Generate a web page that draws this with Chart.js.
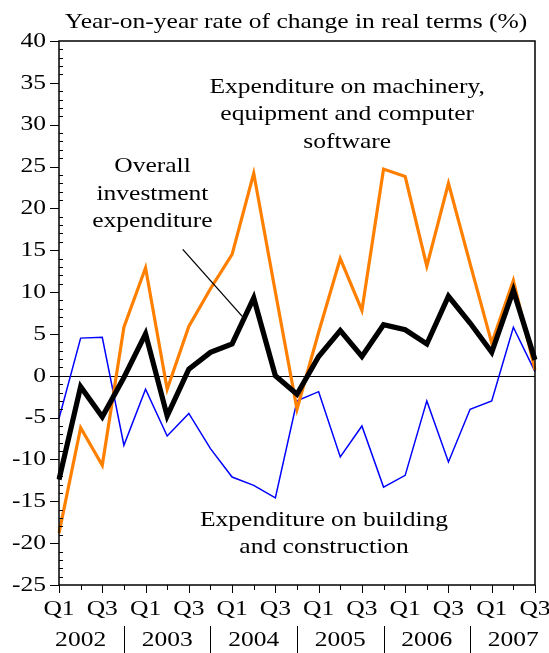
<!DOCTYPE html>
<html>
<head>
<meta charset="utf-8">
<script src="https://cdn.jsdelivr.net/npm/chart.js@4.4.1/dist/chart.umd.min.js"></script>
<style>
    html, body { margin: 0; padding: 0; background: #fff; }
    canvas { display: block; }
</style>
</head>
<body>
<canvas id="grafico" width="549" height="653"></canvas>
<script>
// Dados: trimestres de Q1 2002 a Q3 2007
const quarters = ['Q1', 'Q2', 'Q3', 'Q4', 'Q1', 'Q2', 'Q3', 'Q4', 'Q1', 'Q2', 'Q3', 'Q4',
    'Q1', 'Q2', 'Q3', 'Q4', 'Q1', 'Q2', 'Q3', 'Q4', 'Q1', 'Q2', 'Q3'];
const years = ['2002', '2003', '2004', '2005', '2006', '2007'];

const machinery = [-18.8, -6.2, -10.7, 5.8, 12.9, -1.6, 5.9, 10.4, 14.5, 24.2, 10.0, -4.0,
    5.2, 14.0, 7.8, 24.7, 23.8, 13.1, 23.0, 13.4, 3.9, 11.4, 0.7];
const overall = [-12.4, -1.3, -4.9, -0.2, 5.0, -4.8, 0.8, 2.8, 3.8, 9.3, 0.0, -2.2,
    2.3, 5.4, 2.3, 6.1, 5.5, 3.8, 9.5, 6.3, 2.8, 10.2, 1.9];
const building = [-5.1, 4.5, 4.6, -8.3, -1.6, -7.2, -4.5, -8.7, -12.1, -13.1, -14.6, -3.0,
    -1.9, -9.7, -6.0, -13.3, -11.9, -3.0, -10.3, -4.0, -3.0, 5.8, 0.5];

const yTicks = [-25, -20, -15, -10, -5, 0, 5, 10, 15, 20, 25, 30, 35, 40];

const title = 'Year-on-year rate of change in real terms (%)';
const FONT = '22px "Liberation Serif", "Times New Roman", serif';
const STRETCH = 1.16; // o texto do original é mais largo que alto

// textos dentro do gráfico (posição em índice do trimestre / valor)
const notes = [
    { lines: ['Expenditure on machinery,', 'equipment and computer', 'software'], x: 13.32, y: 34.5 },
    { lines: ['Overall', 'investment', 'expenditure'], x: 4.32, y: 25.0 },
    { lines: ['Expenditure on building', 'and construction'], x: 12.25, y: -17.2 }
];
const pointer = { from: [5.72, 15.1], to: [8.47, 7.1] };

function texto(ctx, t, x, y, align) {
    ctx.save();
    ctx.translate(x, y);
    ctx.scale(STRETCH, 1);
    ctx.textAlign = align || 'center';
    ctx.fillText(t, 0, 0);
    ctx.restore();
}

const decorations = {
    id: 'decorations',
    beforeDatasetsDraw(chart) {
        const { ctx, chartArea: a, scales: { y } } = chart;
        ctx.save();
        ctx.strokeStyle = '#000';
        ctx.lineWidth = 1;
        const y0 = Math.round(y.getPixelForValue(0)) + 0.5;
        ctx.beginPath();
        ctx.moveTo(a.left, y0);
        ctx.lineTo(a.right, y0);
        ctx.stroke();
        ctx.restore();
    },
    afterDraw(chart) {
        const { ctx, chartArea: a, scales: { x, y } } = chart;
        ctx.save();
        ctx.strokeStyle = '#000';
        ctx.fillStyle = '#000';
        ctx.font = FONT;
        ctx.textBaseline = 'middle';

        // moldura
        ctx.lineWidth = 1.5;
        ctx.strokeRect(a.left, a.top, a.right - a.left, a.bottom - a.top);

        // marcas do eixo y
        ctx.lineWidth = 1;
        for (let v = y.min; v <= y.max; v++) {
            const py = Math.round(y.getPixelForValue(v)) + 0.5;
            ctx.beginPath();
            if (v % 5 === 0) {
                ctx.moveTo(a.left - 9, py);
                ctx.lineTo(a.left, py);
            } else {
                ctx.moveTo(a.left, py);
                ctx.lineTo(a.left + 4, py);
            }
            ctx.stroke();
        }
        yTicks.forEach(v => texto(ctx, String(v), a.left - 13, y.getPixelForValue(v), 'right'));

        // marcas do eixo x
        quarters.forEach((q, i) => {
            const px = Math.round(x.getPixelForValue(i)) + 0.5;
            ctx.beginPath();
            ctx.moveTo(px, a.bottom);
            ctx.lineTo(px, a.bottom + (i % 2 === 0 ? 8 : 5));
            ctx.stroke();
            if (i % 2 === 0) texto(ctx, q, x.getPixelForValue(i), a.bottom + 24);
        });

        // anos e separadores
        years.forEach((ano, k) => {
            texto(ctx, ano, x.getPixelForValue(k * 4 + 1), a.bottom + 55);
            if (k < years.length - 1) {
                const px = Math.round(x.getPixelForValue(k * 4 + 3)) + 0.5;
                ctx.beginPath();
                ctx.moveTo(px, a.bottom + 41);
                ctx.lineTo(px, a.bottom + 68);
                ctx.stroke();
            }
        });

        // título
        texto(ctx, title, (a.left + a.right) / 2 - 1, 22);

        // notas
        notes.forEach(n => {
            const px = x.getPixelForValue(n.x);
            const py = y.getPixelForValue(n.y);
            n.lines.forEach((t, j) => texto(ctx, t, px, py + j * 27.5));
        });

        // seta da nota "Overall"
        ctx.lineWidth = 1.3;
        ctx.beginPath();
        ctx.moveTo(x.getPixelForValue(pointer.from[0]), y.getPixelForValue(pointer.from[1]));
        ctx.lineTo(x.getPixelForValue(pointer.to[0]), y.getPixelForValue(pointer.to[1]));
        ctx.stroke();
        ctx.restore();
    }
};

const ctx = document.getElementById('grafico').getContext('2d');
new Chart(ctx, {
    type: 'line',
    data: {
        labels: quarters,
        datasets: [
            {
                label: 'Expenditure on building and construction',
                data: building,
                borderColor: '#0000ff',
                borderWidth: 1.5,
                pointRadius: 0,
                tension: 0,
                order: 3
            },
            {
                label: 'Expenditure on machinery, equipment and computer software',
                data: machinery,
                borderColor: '#ff8000',
                borderWidth: 3.2,
                pointRadius: 0,
                tension: 0,
                order: 2
            },
            {
                label: 'Overall investment expenditure',
                data: overall,
                borderColor: '#000000',
                borderWidth: 5.2,
                pointRadius: 0,
                tension: 0,
                order: 1
            }
        ]
    },
    options: {
        responsive: false,
        animation: false,
        layout: { padding: { top: 41, right: 14, left: 0, bottom: 0 } },
        plugins: {
            legend: { display: false },
            title: { display: false },
            tooltip: { enabled: false }
        },
        scales: {
            x: {
                type: 'category',
                offset: false,
                grid: { display: false, drawTicks: false },
                border: { display: false },
                afterFit: s => { s.height = 68; },
                ticks: { display: false, autoSkip: false }
            },
            y: {
                min: -25,
                max: 40,
                afterFit: s => { s.width = 59; },
                afterBuildTicks: s => { s.ticks = yTicks.map(v => ({ value: v })); },
                grid: { display: false, drawTicks: false },
                border: { display: false },
                ticks: { display: false }
            }
        }
    },
    plugins: [decorations]
});
</script>
</body>
</html>
